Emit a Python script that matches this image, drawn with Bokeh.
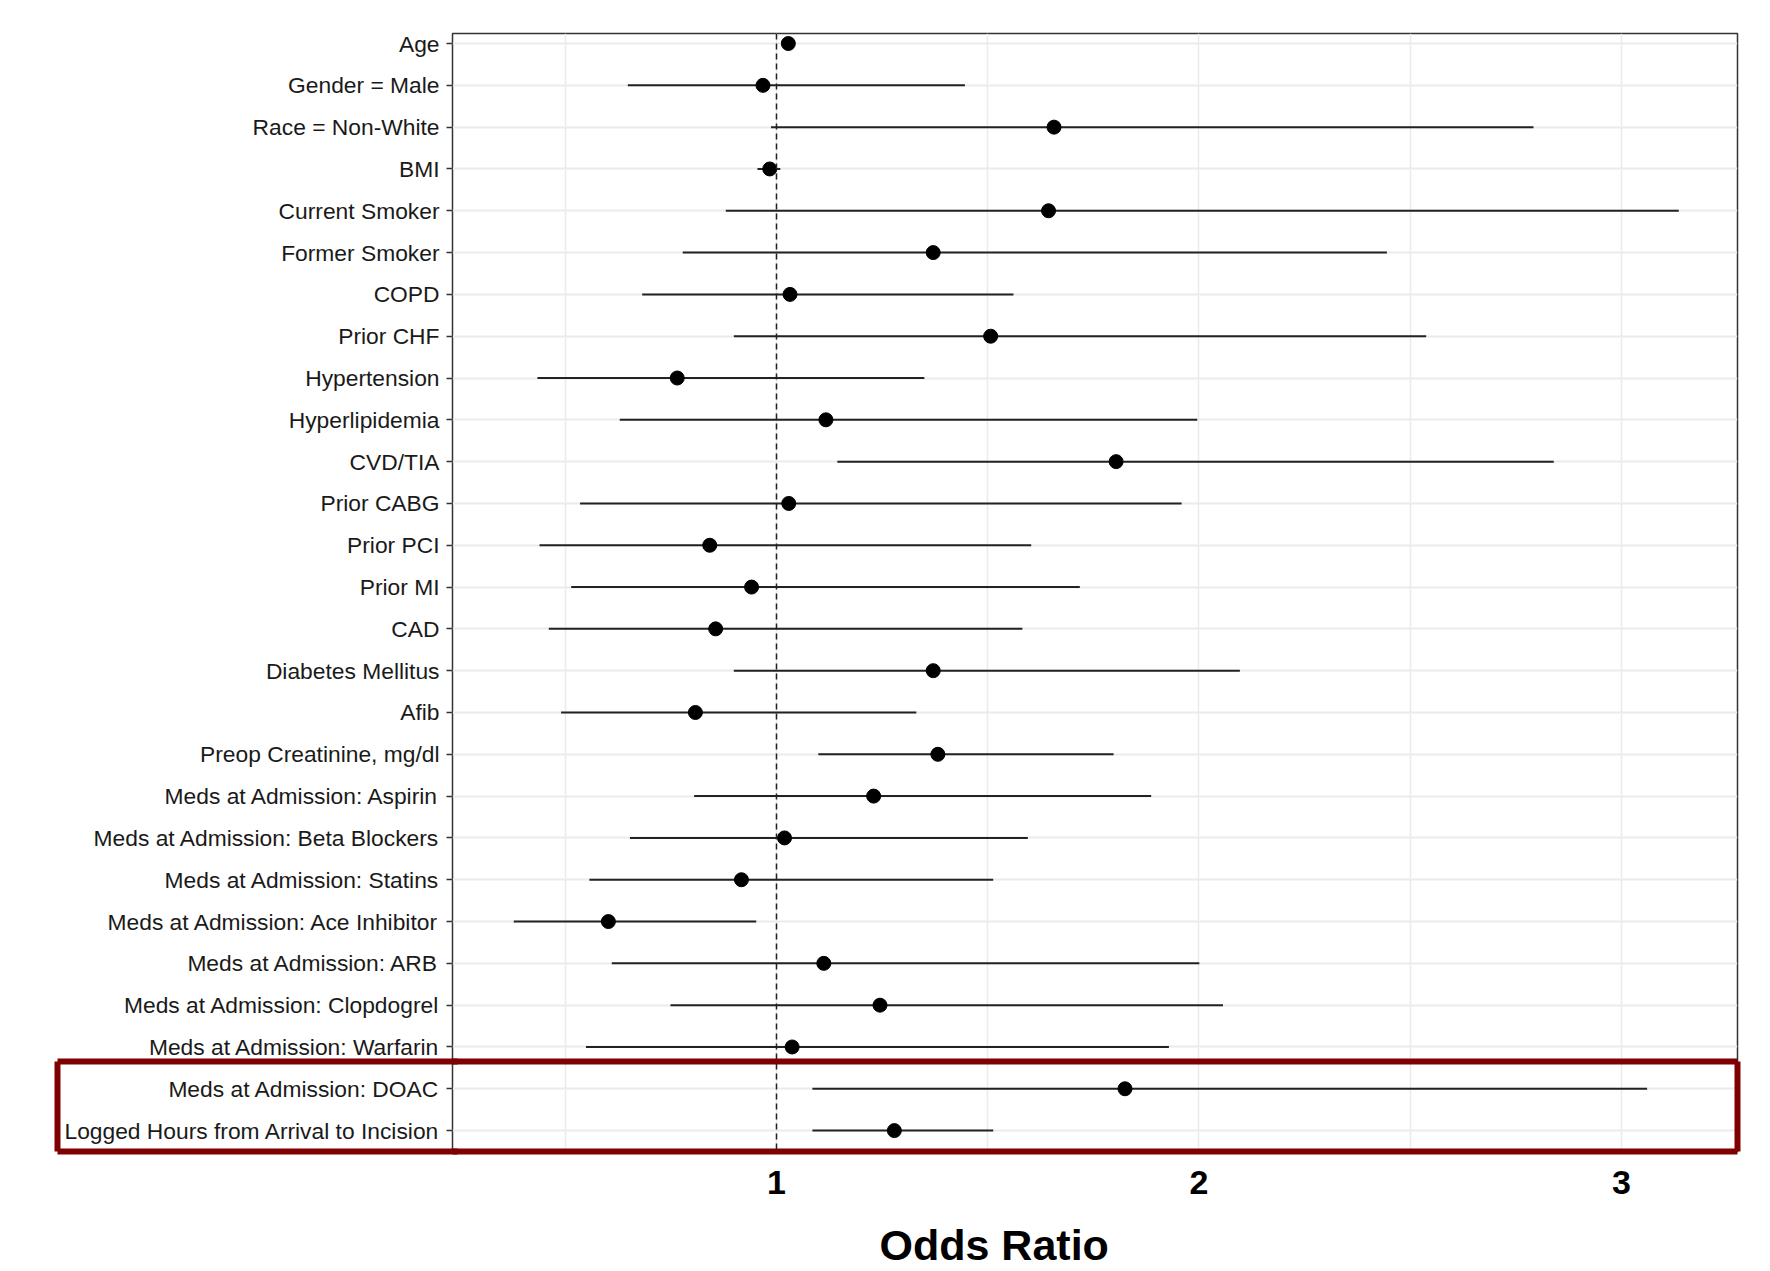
from bokeh.plotting import figure
from bokeh.models import (FixedTicker, Span, BoxAnnotation, Title, ColumnDataSource,
                          Range1d, LinearAxis)
from bokeh.embed import file_html
from bokeh.resources import INLINE

# ---- data ----
variables = [
    "Age", "Gender = Male", "Race = Non-White", "BMI", "Current Smoker",
    "Former Smoker", "COPD", "Prior CHF", "Hypertension", "Hyperlipidemia",
    "CVD/TIA", "Prior CABG", "Prior PCI", "Prior MI", "CAD",
    "Diabetes Mellitus", "Afib", "Preop Creatinine, mg/dl",
    "Meds at Admission: Aspirin", "Meds at Admission: Beta Blockers",
    "Meds at Admission: Statins", "Meds at Admission: Ace Inhibitor",
    "Meds at Admission: ARB", "Meds at Admission: Clopdogrel",
    "Meds at Admission: Warfarin", "Meds at Admission: DOAC",
    "Logged Hours from Arrival to Incision",
]
odds_ratio = [1.028, 0.968, 1.657, 0.984, 1.644, 1.371, 1.032, 1.507, 0.765, 1.117,
              1.804, 1.029, 0.842, 0.941, 0.856, 1.371, 0.808, 1.382, 1.230, 1.019,
              0.917, 0.602, 1.112, 1.245, 1.037, 1.825, 1.279]
ci_lower = [1.015, 0.648, 0.987, 0.955, 0.880, 0.778, 0.682, 0.899, 0.434, 0.629,
            1.144, 0.535, 0.439, 0.514, 0.461, 0.899, 0.490, 1.099, 0.805, 0.653,
            0.557, 0.378, 0.610, 0.749, 0.549, 1.085, 1.085]
ci_upper = [1.042, 1.446, 2.792, 1.009, 3.136, 2.445, 1.561, 2.538, 1.350, 1.996,
            2.840, 1.959, 1.603, 1.718, 1.582, 2.097, 1.331, 1.798, 1.887, 1.595,
            1.513, 0.952, 2.001, 2.057, 1.929, 3.061, 1.513]
highlighted = ["Meds at Admission: DOAC", "Logged Hours from Arrival to Incision"]
x_ticks = [1, 2, 3]
x_minor_ticks = [0.5, 1.5, 2.5]
reference_value = 1

n = len(variables)
ypos = [n - 1 - i for i in range(n)]
src = ColumnDataSource(dict(var=variables, y=ypos, est=odds_ratio, lo=ci_lower, hi=ci_upper))

FONT = "Liberation Sans"
RED = "#7f0000"
FRAME_LEFT, FRAME_TOP, FRAME_W, FRAME_H = 452, 33, 1285, 1118

y_start, y_end = -0.5, n - 1 + 0.24
p = figure(
    output_backend="svg", toolbar_location=None,
    frame_width=FRAME_W, frame_height=FRAME_H,
    min_border_left=FRAME_LEFT, min_border_right=18, min_border_top=FRAME_TOP,
    min_border_bottom=60,
    x_range=Range1d(0.233, 3.275), y_range=Range1d(y_start, y_end),
    background_fill_color="white", border_fill_color="white",
)

# grids
p.xgrid.ticker = FixedTicker(ticks=x_ticks, minor_ticks=x_minor_ticks)
p.xgrid.grid_line_color = "#ebebeb"
p.xgrid.grid_line_width = 1.5
p.xgrid.minor_grid_line_color = "#ebebeb"
p.xgrid.minor_grid_line_width = 1.5
p.ygrid.ticker = FixedTicker(ticks=ypos)
p.ygrid.grid_line_color = "#ebebeb"
p.ygrid.grid_line_width = 2

p.outline_line_color = "#333333"
p.outline_line_width = 1.5

# x axis
xaxis = p.xaxis[0]
xaxis.ticker = FixedTicker(ticks=x_ticks, minor_ticks=[])
xaxis.axis_line_color = None
xaxis.major_tick_line_color = None
xaxis.minor_tick_line_color = None
xaxis.major_tick_out = 0
xaxis.major_tick_in = 0
xaxis.major_label_standoff = 19
xaxis.major_label_text_font = FONT
xaxis.major_label_text_font_size = "34px"
xaxis.major_label_text_font_style = "bold"
xaxis.major_label_text_color = "black"

# y axis
yaxis = p.yaxis[0]
yaxis.ticker = FixedTicker(ticks=ypos, minor_ticks=[])
yaxis.major_label_overrides = {y: v for y, v in zip(ypos, variables)}
yaxis.axis_line_color = None
yaxis.major_tick_out = 6
yaxis.major_tick_in = 0
yaxis.major_tick_line_color = "#333333"
yaxis.major_tick_line_width = 1.5
yaxis.minor_tick_line_color = None
yaxis.major_label_standoff = 7
yaxis.major_label_text_font = FONT
yaxis.major_label_text_font_size = "22.8px"
yaxis.major_label_text_color = "#1a1a1a"

# reference line
p.add_layout(Span(location=reference_value, dimension="height", line_color="#222222",
                  line_width=1.5, line_dash="6 4"))

# CIs and estimates
p.segment(x0="lo", x1="hi", y0="y", y1="y", source=src, line_color="#222222", line_width=2)
p.scatter(x="est", y="y", source=src, size=14, color="black")

# ---- highlight box around the highlighted rows ----
hy = [ypos[variables.index(v)] for v in highlighted]
box_top = max(hy) + 0.65
box_bottom = y_start


def spacer_axis(length, at):
    # invisible axis that only reserves `length` pixels in its side panel
    return LinearAxis(ticker=FixedTicker(ticks=[at], minor_ticks=[]), axis_line_color=None,
                      major_tick_out=length, major_tick_in=0, major_tick_line_alpha=0,
                      minor_tick_line_color=None, major_label_standoff=0,
                      major_label_overrides={at: ""}, major_label_text_font_size="1px")


# top edge inside the panel
p.add_layout(BoxAnnotation(left=-10, right=10, bottom=-10, top=box_top,
                           fill_color=None, line_color=RED, line_alpha=1, line_width=6))

# red axis whose line is the left edge and whose ticks are the top/bottom edges
red_left = LinearAxis(ticker=FixedTicker(ticks=[box_bottom, box_top], minor_ticks=[]),
                      bounds=(box_bottom, box_top),
                      axis_line_color=RED, axis_line_width=6,
                      major_tick_in=400, major_tick_out=0,
                      major_tick_line_color=RED, major_tick_line_width=6,
                      minor_tick_line_color=None,
                      major_label_overrides={box_bottom: "", box_top: ""},
                      major_label_text_font_size="1px", major_label_standoff=0)
p.add_layout(spacer_axis(4, 10), "left")
p.add_layout(red_left, "left")

# right edge
red_right = LinearAxis(ticker=FixedTicker(ticks=[], minor_ticks=[]),
                       bounds=(box_bottom, box_top),
                       axis_line_color=RED, axis_line_width=6,
                       major_tick_out=0, major_tick_in=0, minor_tick_line_color=None,
                       major_label_standoff=0)
p.add_layout(red_right, "right")

# bottom edge, adjacent to the panel
red_bottom = LinearAxis(ticker=FixedTicker(ticks=[], minor_ticks=[]),
                        axis_line_color=RED, axis_line_width=6,
                        major_tick_out=0, major_tick_in=0, minor_tick_line_color=None,
                        major_label_standoff=0)
title_x = Title(text="Odds Ratio", align="left", offset=427, text_font=FONT,
                text_font_size="43px", text_font_style="bold", text_color="black",
                standoff=0)
p.below = [red_bottom, xaxis, spacer_axis(22, 1), title_x]

open("out.html", "w").write(file_html(p, INLINE))
